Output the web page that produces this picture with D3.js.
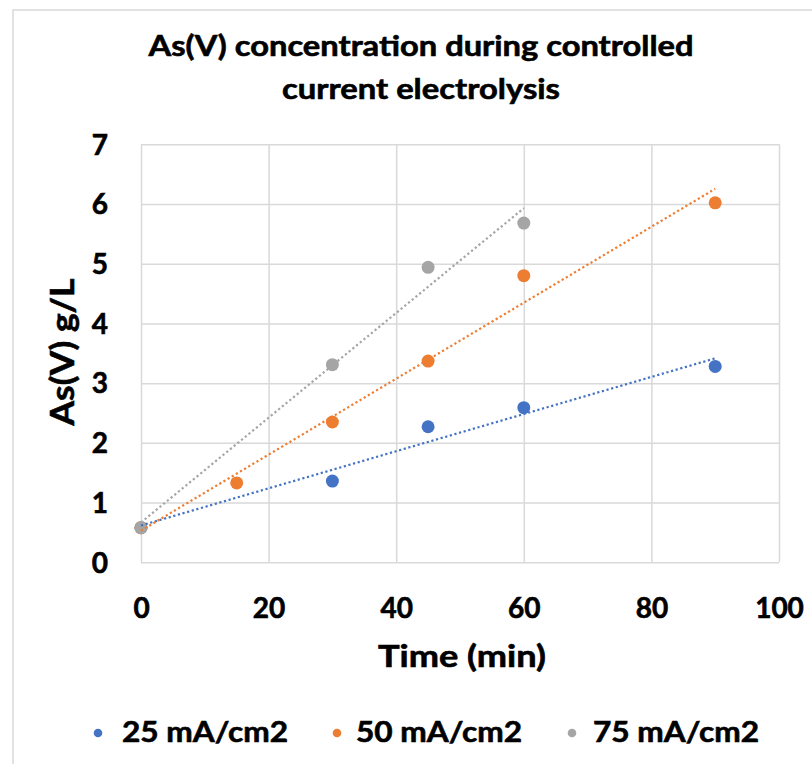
<!DOCTYPE html>
<html>
<head>
<meta charset="utf-8">
<script src="https://cdn.jsdelivr.net/npm/d3@7"></script>
<style>
  body { margin: 0; background: #fff; }
  text { font-family: Lato, "Open Sans", sans-serif; font-weight: bold; fill: #000; stroke: #000; stroke-width: 0.6px; }
</style>
</head>
<body>
<div id="chart"></div>
<script>
// measured As(V) concentration (g/L) against electrolysis time (min)
const times25 = [0, 30, 45, 60, 90];
const conc25 = [0.58, 1.36, 2.27, 2.59, 3.28];
const times50 = [0, 15, 30, 45, 60, 90];
const conc50 = [0.58, 1.33, 2.35, 3.37, 4.8, 6.02];
const times75 = [0, 30, 45, 60];
const conc75 = [0.58, 3.31, 4.94, 5.68];

const seriesNames = ["25 mA/cm2", "50 mA/cm2", "75 mA/cm2"];
const seriesColors = ["#4472C4", "#ED7D31", "#A5A5A5"];
const xTicks = [0, 20, 40, 60, 80, 100];
const yTicks = [0, 1, 2, 3, 4, 5, 6, 7];

const width = 812,
  height = 764,
  plotLeft = 141,
  plotRight = 779,
  plotTop = 144.3,
  plotBottom = 562.3;

const series = [
  { name: seriesNames[0], color: seriesColors[0], pts: times25.map((t, i) => [t, conc25[i]]) },
  { name: seriesNames[1], color: seriesColors[1], pts: times50.map((t, i) => [t, conc50[i]]) },
  { name: seriesNames[2], color: seriesColors[2], pts: times75.map((t, i) => [t, conc75[i]]) },
];

// least squares fit, used for the dotted trendlines
function linearFit(pts) {
  const mx = d3.mean(pts, d => d[0]), my = d3.mean(pts, d => d[1]);
  const sxy = d3.sum(pts, d => (d[0] - mx) * (d[1] - my));
  const sxx = d3.sum(pts, d => (d[0] - mx) ** 2);
  const slope = sxy / sxx;
  return x => my + slope * (x - mx);
}

const x = d3.scaleLinear().domain([0, 100]).range([plotLeft, plotRight]);
const y = d3.scaleLinear().domain([0, 7]).range([plotBottom, plotTop]);

const svg = d3.select("#chart")
  .append("svg")
  .attr("width", width)
  .attr("height", height);

svg.append("rect")
  .attr("x", 13).attr("y", 10)
  .attr("width", width).attr("height", height)
  .attr("fill", "#fff")
  .attr("stroke", "#d9d9d9")
  .attr("stroke-width", 1.5);

// title
svg.append("g")
  .attr("font-size", 28)
  .attr("text-anchor", "middle")
  .selectAll("text")
  .data([["As(V) concentration during controlled", 56, 545], ["current electrolysis", 99, 278]])
  .join("text")
  .attr("x", 421)
  .attr("y", d => d[1])
  .attr("textLength", d => d[2])
  .attr("lengthAdjust", "spacingAndGlyphs")
  .text(d => d[0]);

// axes with full-length ticks acting as gridlines
const xAxis = svg.append("g")
  .attr("transform", `translate(0,${plotBottom})`)
  .call(d3.axisBottom(x).tickValues(xTicks).tickFormat(d3.format("d")).tickSize(-(plotBottom - plotTop)));
const yAxis = svg.append("g")
  .attr("transform", `translate(${plotLeft},0)`)
  .call(d3.axisLeft(y).tickValues(yTicks).tickFormat(d3.format("d")).tickSize(-(plotRight - plotLeft)));

for (const g of [xAxis, yAxis]) {
  g.select(".domain").remove();
  g.selectAll(".tick line").attr("stroke", "#d9d9d9").attr("stroke-width", 1.5);
  g.selectAll(".tick text")
    .attr("font-family", null)
    .attr("font-size", 28);
}
xAxis.selectAll(".tick text").attr("y", 56).attr("dy", null);
yAxis.selectAll(".tick text").attr("x", -33).attr("dy", "0.35em");

// axis titles
svg.append("text")
  .attr("x", 462).attr("y", 667)
  .attr("text-anchor", "middle")
  .attr("font-size", 30)
  .attr("textLength", 168)
  .attr("lengthAdjust", "spacingAndGlyphs")
  .text("Time (min)");

svg.append("text")
  .attr("transform", "translate(74,352) rotate(-90)")
  .attr("text-anchor", "middle")
  .attr("font-size", 32)
  .attr("textLength", 147)
  .attr("lengthAdjust", "spacingAndGlyphs")
  .text("As(V) g/L");

// markers
svg.append("g")
  .selectAll("g")
  .data(series)
  .join("g")
  .attr("fill", d => d.color)
  .selectAll("circle")
  .data(d => d.pts)
  .join("circle")
  .attr("cx", d => x(d[0]))
  .attr("cy", d => y(d[1]))
  .attr("r", 6.5);

// dotted linear trendlines over each series' time range
const line = d3.line().x(d => x(d[0])).y(d => y(d[1]));
svg.append("g")
  .attr("fill", "none")
  .attr("stroke-width", 2.2)
  .attr("stroke-dasharray", "2.2 2.6")
  .selectAll("path")
  .data(series)
  .join("path")
  .attr("stroke", d => d.color)
  .attr("d", d => {
    const f = linearFit(d.pts);
    const [x0, x1] = d3.extent(d.pts, p => p[0]);
    return line([[x0, f(x0)], [x1, f(x1)]]);
  });

// legend
const legend = svg.append("g")
  .selectAll("g")
  .data(series)
  .join("g")
  .attr("transform", (d, i) => `translate(${[98, 337, 572][i]},733)`);

legend.append("circle")
  .attr("r", 4.3)
  .attr("fill", d => d.color);

legend.append("text")
  .attr("x", (d, i) => [24, 19, 21][i])
  .attr("y", 9)
  .attr("font-size", 28)
  .attr("textLength", 166)
  .attr("lengthAdjust", "spacingAndGlyphs")
  .text(d => d.name);
</script>
</body>
</html>
